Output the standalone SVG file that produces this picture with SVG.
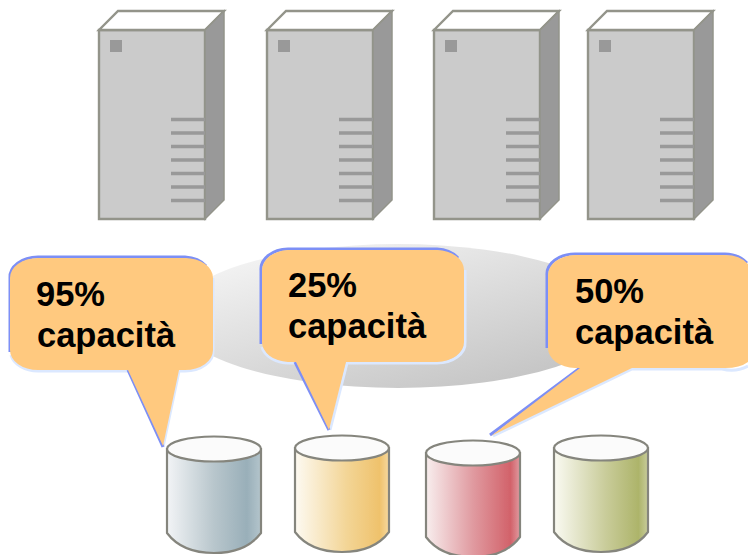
<svg xmlns="http://www.w3.org/2000/svg" width="748" height="555" viewBox="0 0 748 555">
<style>
.body{fill:#cbcbcb;stroke:#93948a;stroke-width:2.4}
.top{fill:#fff;stroke:#93948a;stroke-width:2.4}
.side{fill:#999;stroke:#93948a;stroke-width:1.5}
.dot{fill:#999}
.vent{stroke:#999;stroke-width:3.5}
.callout{fill:#ffc97f}
.edgeD{fill:none;stroke:#dbe8ff;stroke-width:3}
.edgeL{fill:none;stroke:#7d8ff5;stroke-width:3}
.label{font-family:"Liberation Sans",Arial,sans-serif;font-weight:700;font-size:34.5px;fill:#000}
.cylEdge{stroke:#85857d;stroke-width:2.2}
.cylTop{fill:#fbfbfb;stroke:#85857d;stroke-width:2.2}
.soft{filter:url(#soft)}
</style>
<defs>
<filter id="soft" x="-5%" y="-5%" width="110%" height="110%"><feGaussianBlur stdDeviation="0.7"/></filter>
<linearGradient id="ell" x1="0.1" y1="0.1" x2="0.8" y2="0.9"><stop offset="0" stop-color="#f4f4f4"/><stop offset="1" stop-color="#c6c6c6"/></linearGradient>
<linearGradient id="cBlue"><stop offset="0" stop-color="#f2f4f6"/><stop offset=".5" stop-color="#b8c6cc"/><stop offset=".85" stop-color="#99afb9"/><stop offset="1" stop-color="#b4c5cc"/></linearGradient>
<linearGradient id="cYellow"><stop offset="0" stop-color="#fdfaf2"/><stop offset=".55" stop-color="#f3d596"/><stop offset=".9" stop-color="#efc26c"/><stop offset="1" stop-color="#f6d9a0"/></linearGradient>
<linearGradient id="cRed"><stop offset="0" stop-color="#f8eeee"/><stop offset=".5" stop-color="#e09aa0"/><stop offset=".9" stop-color="#d2626a"/><stop offset="1" stop-color="#e09aa0"/></linearGradient>
<linearGradient id="cGreen"><stop offset="0" stop-color="#fafaf2"/><stop offset=".55" stop-color="#c9cc9a"/><stop offset=".9" stop-color="#adb46a"/><stop offset="1" stop-color="#c8cc9c"/></linearGradient>
<g id="server">
<path class="body" d="M0 30H106V219H0Z"/>
<path class="top" d="M0 30L19 11H125L106 30Z"/>
<path class="side" d="M106 30L125 11V200L106 219Z"/>
<rect class="dot" x="11" y="40" width="12" height="12"/>
<path class="vent" d="M72 119.500H106M72 133H106M72 146.500H106M72 160H106M72 173.500H106M72 187H106M72 200.500H106"/>
</g>
<g id="cylShape">
<path class="cylEdge" d="M1 14V98Q16 118 48 118Q80 118 95 98V14Z"/>
<ellipse class="cylTop" cx="48" cy="14" rx="47" ry="12.500"/>
</g>
</defs>
<g id="server-1" class="soft"><use href="#server" x="99"/></g>
<g id="server-2" class="soft"><use href="#server" x="267"/></g>
<g id="server-3" class="soft"><use href="#server" x="434"/></g>
<g id="server-4" class="soft"><use href="#server" x="588"/></g>
<g id="pool"><ellipse cx="398" cy="316" rx="223" ry="72" fill="url(#ell)"/></g>
<g id="disk-1" class="soft" fill="url(#cBlue)"><use href="#cylShape" x="166" y="435"/></g>
<g id="disk-2" class="soft" fill="url(#cYellow)"><use href="#cylShape" x="294" y="434"/></g>
<g id="disk-3" class="soft" fill="url(#cRed)"><use href="#cylShape" x="425" y="439"/></g>
<g id="disk-4" class="soft" fill="url(#cGreen)"><use href="#cylShape" x="553" y="434"/></g>
<g id="callout-1">
<path class="edgeD" d="M213 278V350A28 20 0 0 1 185 371H179L163 447M128 371H38A28 20 0 0 1 11 355"/>
<path class="edgeL" d="M163 447L128 370M10 352V278A28 20 0 0 1 38 257H185A28 20 0 0 1 206 266"/>
<path class="callout" d="M38 258H185A28 20 0 0 1 213 278V350A28 20 0 0 1 185 370H179L163 446L128 370H38A28 20 0 0 1 10 350V278A28 20 0 0 1 38 258Z"/>
<text class="label" x="36" y="306">95%</text><text class="label" x="37" y="347">capacità</text>
</g>
<g id="callout-2">
<path class="edgeD" d="M465 270V342A28 20 0 0 1 437 363H347L330 430M295 363H289A28 20 0 0 1 262 347"/>
<path class="edgeL" d="M329 430L295 362M261 344V270A28 20 0 0 1 288 249H437A28 20 0 0 1 458 258"/>
<path class="callout" d="M288 250H437A28 20 0 0 1 464 270V342A28 20 0 0 1 437 362H346L329 430L296 362H288A28 20 0 0 1 262 342V270A28 20 0 0 1 288 250Z"/>
<text class="label" x="288" y="297">25%</text><text class="label" x="288" y="338">capacità</text>
</g>
<g id="callout-3">
<path class="edgeD" d="M748 366A28 20 0 0 1 722 369H632L493 436"/>
<path class="edgeL" d="M490 435L580 368M547 348V275A28 20 0 0 1 575 254H725Q738 254 747 263"/>
<path class="callout" d="M575 255H725Q740 255 748 264V362Q740 368 725 368H632L491 436L580 368H575A28 20 0 0 1 548 348V275A28 20 0 0 1 575 255Z"/>
<text class="label" x="575" y="303">50%</text><text class="label" x="575" y="344">capacità</text>
</g>
</svg>
